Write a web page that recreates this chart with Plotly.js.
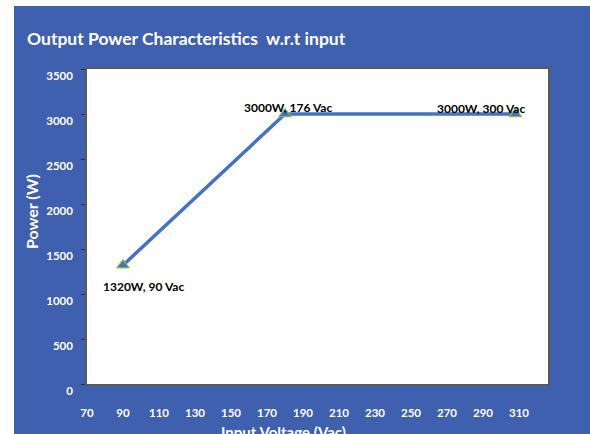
<!DOCTYPE html>
<html>
<head>
<meta charset="utf-8">
<script src="https://cdn.plot.ly/plotly-3.0.1.min.js"></script>
<style>html,body{margin:0;padding:0;background:#fff;}#chart{width:590px;height:434px;}</style>
</head>
<body>
<div id="chart"></div>
<script>
// Data
var inputVoltage = [90, 180, 308];
var outputPower = [1320, 3000, 3000];
var pointLabels = ["1320W, 90 Vac", "3000W, 176 Vac", "3000W, 300 Vac"];
var labelXShift = [20, 3, -34];
var labelYShift = [-21, 7, 6];
var xTickValues = [70, 90, 110, 130, 150, 170, 190, 210, 230, 250, 270, 290, 310];
var yTickValues = [0, 500, 1000, 1500, 2000, 2500, 3000, 3500];

var FONT = "Lato, 'Open Sans', sans-serif";
var BG = "#3F5FAF";

var trace = {
  x: inputVoltage,
  y: outputPower,
  type: "scatter",
  mode: "lines+markers",
  line: {color: "#4472C4", width: 3.5},
  marker: {symbol: "triangle-up", size: 11, color: "#4472C4", line: {color: "#8BC34A", width: 1.2}},
  hoverinfo: "x+y",
  showlegend: false
};

var annotations = pointLabels.map(function (t, i) {
  return {
    x: inputVoltage[i], y: outputPower[i], xref: "x", yref: "y",
    text: "<b>" + t + "</b>", showarrow: false,
    xshift: labelXShift[i], yshift: labelYShift[i],
    font: {family: FONT, size: 12, color: "#000000"}
  };
});
annotations.push({
  xref: "paper", yref: "paper", x: 0.4273, y: -0.1175, xanchor: "center", yanchor: "top",
  text: "<b>Input Voltage (Vac)</b>", showarrow: false,
  font: {family: FONT, size: 15, color: "#ffffff"}
});
annotations.push({
  xref: "paper", yref: "paper", x: -0.1215, y: 0.549, xanchor: "center", yanchor: "middle",
  text: "<b>Power (W)</b>", showarrow: false, textangle: -90,
  font: {family: FONT, size: 16, color: "#ffffff"}
});

var layout = {
  width: 590, height: 434,
  margin: {l: 87, r: 42, t: 69, b: 50, pad: 0},
  paper_bgcolor: BG,
  plot_bgcolor: "#ffffff",
  title: {
    text: "<b>Output Power Characteristics  w.r.t input</b>",
    xref: "container", yref: "container",
    x: 27 / 590, xanchor: "left", y: 1 - 39 / 434, yanchor: "middle",
    font: {family: FONT, size: 17.5, color: "#ffffff"}
  },
  xaxis: {
    range: [70, 326.1], tickvals: xTickValues, ticktext: xTickValues.map(String),
    showgrid: false, zeroline: false, showline: true, mirror: true,
    linecolor: "#5a5a5a", linewidth: 1.5, ticks: "",
    ticklabelstandoff: 17,
    tickfont: {family: FONT, size: 11.5, color: "#ffffff", weight: "bold"},
    fixedrange: true
  },
  yaxis: {
    range: [0, 3500], tickvals: yTickValues, ticktext: yTickValues.map(String),
    showgrid: false, zeroline: false, showline: true, mirror: true,
    linecolor: "#5a5a5a", linewidth: 1.5, ticks: "outside", ticklen: 4, tickcolor: "#303030",
    ticklabelstandoff: 6, ticklabelshift: 7,
    tickfont: {family: FONT, size: 11.5, color: "#ffffff", weight: "bold"},
    fixedrange: true
  },
  shapes: [
    {type: "rect", xref: "paper", yref: "paper", x0: -0.2, x1: (14 - 87) / 461, y0: -0.2, y1: 1.25,
     fillcolor: "#ffffff", line: {width: 0}, layer: "below"},
    {type: "rect", xref: "paper", yref: "paper", x0: -0.2, x1: 1.2, y0: (384 - 6) / 315, y1: 1.25,
     fillcolor: "#ffffff", line: {width: 0}, layer: "below"}
  ],
  annotations: annotations
};

Plotly.newPlot("chart", [trace], layout, {displayModeBar: false, staticPlot: false});
</script>
</body>
</html>
